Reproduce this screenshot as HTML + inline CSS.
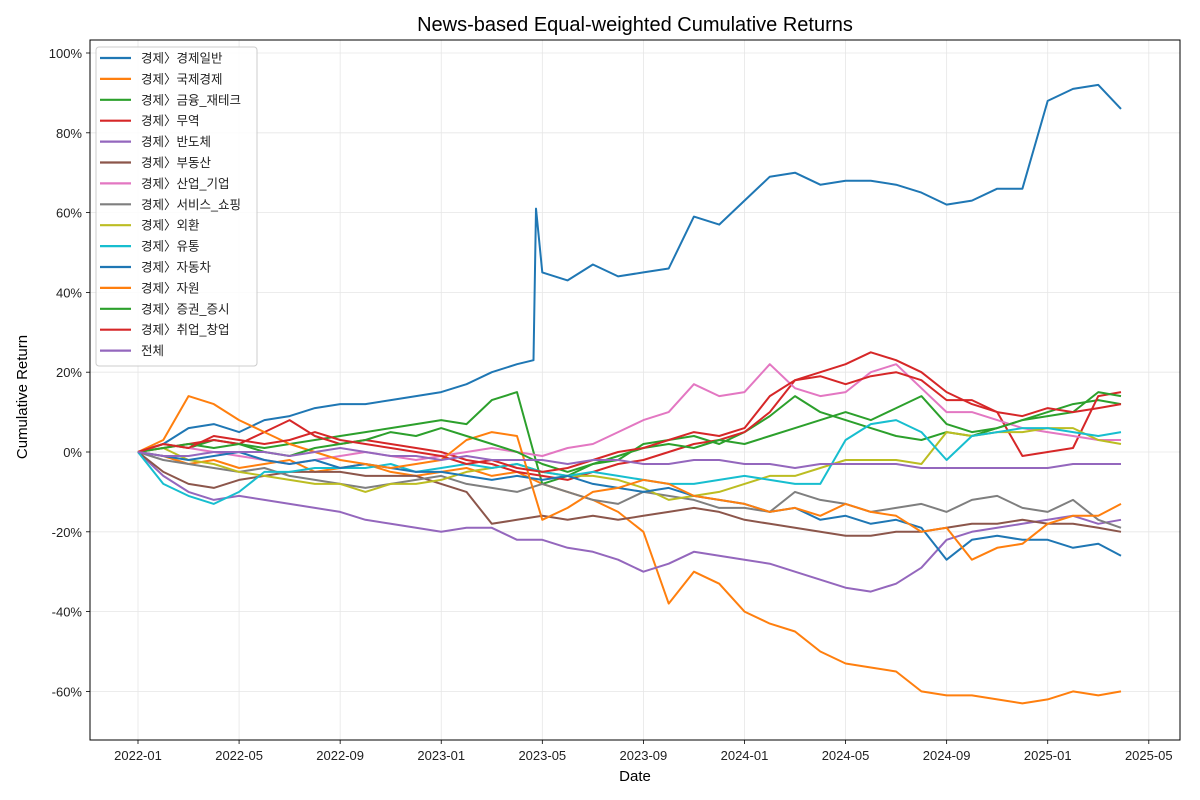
<!DOCTYPE html>
<html><head><meta charset="utf-8">
<style>
body{margin:0;background:#fff;}
svg{display:block;font-family:"Liberation Sans","Noto Sans CJK KR",sans-serif;}
</style></head>
<body>
<svg id="chart" width="1200" height="800"></svg>
<script>
const monthLabels=["2022-01","2022-05","2022-09","2023-01","2023-05","2023-09","2024-01","2024-05","2024-09","2025-01","2025-05"];
const yTicks=[-60,-40,-20,0,20,40,60,80,100];
const seriesNames=["경제〉경제일반","경제〉국제경제","경제〉금융_재테크","경제〉무역","경제〉반도체","경제〉부동산","경제〉산업_기업","경제〉서비스_쇼핑","경제〉외환","경제〉유통","경제〉자동차","경제〉자원","경제〉증권_증시","경제〉취업_창업","전체"];
const s0Months=[0,1,2,3,4,5,6,7,8,9,10,11,12,13,14,15,15.65,15.75,16,17,18,19,20,21,22,23,24,25,26,27,28,29,30,31,32,33,34,35,36,37,38,38.9];
const s0=[0,2,6,7,5,8,9,11,12,12,13,14,15,17,20,22,23,61,45,43,47,44,45,46,59,57,63,69,70,67,68,68,67,65,62,63,66,66,88,91,92,86];
const s1=[0,-1,-3,-2,-4,-3,-2,-5,-4,-3,-5,-6,-5,-4,-6,-5,-8,-10,-12,-15,-20,-38,-30,-33,-40,-43,-45,-50,-53,-54,-55,-60,-61,-61,-62,-63,-62,-60,-61,-60];
const s2=[0,2,1,3,2,1,2,3,4,5,6,7,8,7,13,15,-8,-6,-3,-2,2,3,4,2,5,9,14,10,8,6,4,3,5,4,6,8,10,12,13,12];
const s3=[0,1,2,3,2,5,8,4,2,3,2,1,0,-2,-3,-5,-6,-7,-5,-3,-2,0,2,3,5,10,18,20,22,25,23,20,15,12,10,-1,0,1,14,15];
const s4=[0,-6,-10,-12,-11,-12,-13,-14,-15,-17,-18,-19,-20,-19,-19,-22,-22,-24,-25,-27,-30,-28,-25,-26,-27,-28,-30,-32,-34,-35,-33,-29,-22,-20,-19,-18,-17,-16,-18,-17];
const s5=[0,-5,-8,-9,-7,-6,-5,-5,-5,-6,-6,-6,-8,-10,-18,-17,-16,-17,-16,-17,-16,-15,-14,-15,-17,-18,-19,-20,-21,-21,-20,-20,-19,-18,-18,-17,-18,-18,-19,-20];
const s6=[0,2,1,0,-1,-2,-3,-2,-1,0,-1,-2,-1,0,1,0,-1,1,2,5,8,10,17,14,15,22,16,14,15,20,22,16,10,10,8,6,5,4,3,3];
const s7=[0,-2,-3,-4,-5,-4,-6,-7,-8,-9,-8,-7,-6,-8,-9,-10,-8,-10,-12,-13,-10,-11,-12,-14,-14,-15,-10,-12,-13,-15,-14,-13,-15,-12,-11,-14,-15,-12,-17,-19];
const s8=[0,1,-2,-3,-5,-6,-7,-8,-8,-10,-8,-8,-7,-5,-4,-3,-5,-6,-6,-7,-9,-12,-11,-10,-8,-6,-6,-4,-2,-2,-2,-3,5,4,5,5,6,6,3,2];
const s9=[0,-8,-11,-13,-10,-5,-5,-4,-4,-4,-3,-5,-4,-3,-4,-3,-5,-6,-5,-6,-7,-8,-8,-7,-6,-7,-8,-8,3,7,8,5,-2,4,5,6,6,5,4,5];
const s10=[0,-1,-2,-1,0,-2,-3,-2,-4,-3,-4,-5,-5,-6,-7,-6,-7,-6,-8,-9,-10,-9,-11,-12,-13,-15,-14,-17,-16,-18,-17,-19,-27,-22,-21,-22,-22,-24,-23,-26];
const s11=[0,3,14,12,8,5,2,0,-2,-3,-4,-3,-2,3,5,4,-17,-14,-10,-9,-7,-8,-11,-12,-13,-15,-14,-16,-13,-15,-16,-20,-19,-27,-24,-23,-18,-16,-16,-13];
const s12=[0,1,2,1,2,0,-1,1,2,3,5,4,6,4,2,0,-3,-5,-3,-1,1,2,1,3,2,4,6,8,10,8,11,14,7,5,6,8,9,10,15,14];
const s13=[0,2,1,4,3,2,3,5,3,2,1,0,-1,-3,-2,-4,-5,-4,-2,0,1,3,5,4,6,14,18,19,17,19,20,18,13,13,10,9,11,10,11,12];
const s14=[0,-1,-1,0,0,0,-1,0,1,0,-1,-1,-2,-1,-2,-2,-2,-3,-2,-2,-3,-3,-2,-2,-3,-3,-4,-3,-3,-3,-3,-4,-4,-4,-4,-4,-4,-3,-3,-3];
const allSeries=[s0,s1,s2,s3,s4,s5,s6,s7,s8,s9,s10,s11,s12,s13,s14];
const colors=["#1f77b4","#ff7f0e","#2ca02c","#d62728","#9467bd","#8c564b","#e377c2","#7f7f7f","#bcbd22","#17becf","#1f77b4","#ff7f0e","#2ca02c","#d62728","#9467bd"];

const NS="http://www.w3.org/2000/svg";
const svg=document.getElementById('chart');
const L=90,T=40,R=1180,B=740;
function xScale(m){return 138+m*25.27;}
function yScale(v){return 452-v*3.99;}
function mk(tag,attrs,parent){const e=document.createElementNS(NS,tag);for(const k in attrs)e.setAttribute(k,attrs[k]);(parent||svg).appendChild(e);return e;}

const grid=mk('g',{});


monthLabels.forEach((lab,i)=>{
  const x=xScale(i*4);
  mk('line',{x1:x,x2:x,y1:T,y2:B,stroke:'#e6e6e6','stroke-width':0.8},grid);
  mk('line',{x1:x,x2:x,y1:B,y2:B+4,stroke:'#000','stroke-width':0.8},grid);
  const t=mk('text',{x:x,y:B+20,'text-anchor':'middle','font-size':13,fill:'#222'});
  t.textContent=lab;
  
  
});
yTicks.forEach(v=>{
  const y=yScale(v);
  mk('line',{x1:L,x2:R,y1:y,y2:y,stroke:'#e6e6e6','stroke-width':0.8},grid);
  mk('line',{x1:L-4,x2:L,y1:y,y2:y,stroke:'#000','stroke-width':0.8},grid);
  const t=mk('text',{x:L-8,y:y+5,'text-anchor':'end','font-size':13,fill:'#222'});
  t.textContent=v+'%';
  
  
});

allSeries.forEach((s,i)=>{
  const months=(i===0)?s0Months:null;
  const d=s.map((v,j)=>{
    const m=months?months[j]:(j===s.length-1?38.9:j);
    return (j?'L':'M')+xScale(m).toFixed(1)+','+yScale(v).toFixed(1);
  }).join(' ');
  const p=mk('path',{d:d,fill:'none',stroke:colors[i],'stroke-width':2,'stroke-linejoin':'round'});
  
  
});

const frame=mk('rect',{x:L,y:T,width:R-L,height:B-T,fill:'none',stroke:'#000','stroke-width':1});



const title=mk('text',{x:635,y:31,'text-anchor':'middle','font-size':20,fill:'#000'});
title.textContent='News-based Equal-weighted Cumulative Returns';


const xt=mk('text',{x:635,y:781,'text-anchor':'middle','font-size':15,fill:'#000'});
xt.textContent='Date';


const yt=mk('text',{x:27,y:397,'text-anchor':'middle','font-size':15,fill:'#000',transform:'rotate(-90 27 397)'});
yt.textContent='Cumulative Return';



const lg=mk('g',{});


mk('rect',{x:96,y:47,width:161,height:319,rx:3,fill:'#fff','fill-opacity':0.85,stroke:'#ccc'},lg);
seriesNames.forEach((n,i)=>{
  const y=58+i*20.9;
  mk('line',{x1:100,x2:131,y1:y,y2:y,stroke:colors[i],'stroke-width':2.2},lg);
  const t=mk('text',{x:141,y:y+4.5,'font-size':12.5,fill:'#222'},lg);
  t.textContent=n;
  
  
});
</script>
</body></html>
